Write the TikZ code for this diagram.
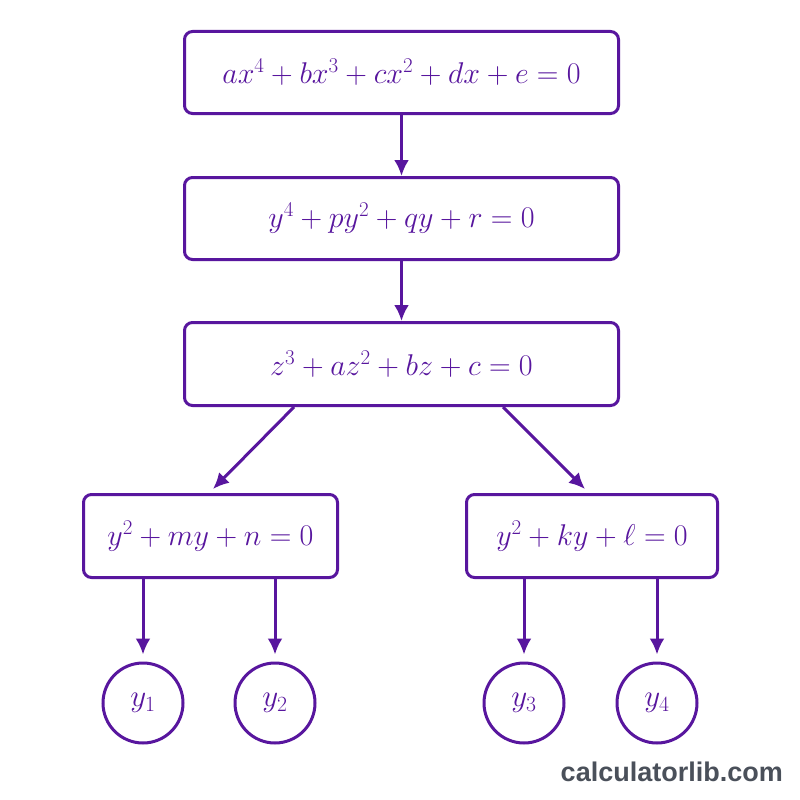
\RequirePackage{fix-cm}
\documentclass[tikz,border=0pt]{standalone}
\usepackage{fontspec}
\usetikzlibrary{arrows.meta,calc}
\newfontfamily\wmfont{Liberation Sans}
\definecolor{pur}{RGB}{88,22,158}
\definecolor{wm}{RGB}{74,80,90}
\begin{document}
\begin{tikzpicture}[x=1pt,y=-1pt,
  eqbox/.style={draw=pur,line width=3pt,rounded corners=8pt,text=pur,font=\fontsize{30}{36}\selectfont,inner sep=0pt,anchor=north west},
  root/.style={draw=pur,line width=3pt,circle,minimum size=80pt,inner sep=0pt,text=pur,font=\fontsize{31}{36}\selectfont},
  arr/.style={draw=pur,line width=3pt,-{Latex[length=16pt,width=15pt]}}]
\useasboundingbox (0,0) rectangle (800,800);
\fill[white] (0,0) rectangle (800,800);
\node[eqbox,minimum width=434pt,minimum height=82pt] (b1) at (183,30) {$ax^4+bx^3+cx^2+dx+e=0$};
\node[eqbox,minimum width=434pt,minimum height=82pt] (b2) at (183,176) {$y^4+py^2+qy+r=0$};
\node[eqbox,minimum width=434pt,minimum height=83pt] (b3) at (183,321) {$z^3+az^2+bz+c=0$};
\node[eqbox,minimum width=254pt,minimum height=83pt] (b4) at (82,493) {$y^2+my+n=0$};
\node[eqbox,minimum width=251pt,minimum height=83pt] (b5) at (465,493) {$y^2+ky+\ell=0$};
\node[root] (c1) at (143,703) {$y_1$};
\node[root] (c2) at (275,703) {$y_2$};
\node[root] (c3) at (524,703) {$y_3$};
\node[root] (c4) at (657,703) {$y_4$};
\draw[arr] (b1.south) -- (b2.north);
\draw[arr] (b2.south) -- (b3.north);
\draw[arr] ($(b3.south west)+(111,0)$) -- ($(b4.north west)+(131,-4)$);
\draw[arr] ($(b3.south west)+(320,0)$) -- ($(b5.north west)+(120,-4)$);
\draw[arr,shorten >=7pt] (b4.south -| c1.north) -- (c1.north);
\draw[arr,shorten >=7pt] (b4.south -| c2.north) -- (c2.north);
\draw[arr,shorten >=7pt] (b5.south -| c3.north) -- (c3.north);
\draw[arr,shorten >=7pt] (b5.south -| c4.north) -- (c4.north);
\node[anchor=east,text=wm,font=\wmfont\bfseries\fontsize{27}{30}\selectfont,inner sep=0pt] (wmk) at (783,772) {calculatorlib.com};
\end{tikzpicture}
\end{document}
